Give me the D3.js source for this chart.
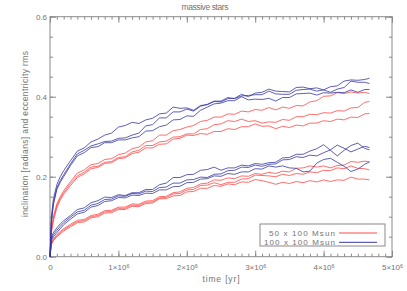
<!DOCTYPE html>
<html>
<head>
<meta charset="utf-8">
<script src="https://cdn.jsdelivr.net/npm/d3@7"></script>
<style>
  body { margin: 0; background: #fff; }
  text { font-family: "Liberation Sans", "DejaVu Sans", sans-serif; fill: #747474; }
</style>
</head>
<body>
<svg id="chart" width="407" height="291"></svg>
<script>
// Time samples (in units of 1e6 yr)
const times = [0, 0.02, 0.05, 0.1, 0.15, 0.2, 0.3, 0.4, 0.5, 0.6, 0.7, 0.8, 0.9, 1.0,
  1.1, 1.2, 1.3, 1.4, 1.5, 1.6, 1.7, 1.8, 1.9, 2.0, 2.1, 2.2, 2.3, 2.4, 2.5, 2.6, 2.7,
  2.8, 2.9, 3.0, 3.1, 3.2, 3.3, 3.4, 3.5, 3.6, 3.7, 3.8, 3.9, 4.0, 4.1, 4.2, 4.3, 4.4,
  4.5, 4.6, 4.67];

// 100 x 100 Msun runs (blue), upper branch
const blueHigh1 = [0, 0.100, 0.145, 0.180, 0.200, 0.215, 0.240, 0.264, 0.272, 0.287, 0.294, 0.304, 0.309, 0.324,
  0.328, 0.336, 0.333, 0.342, 0.346, 0.357, 0.359, 0.374, 0.371, 0.372, 0.366, 0.378, 0.380, 0.388, 0.387, 0.395,
  0.396, 0.406, 0.400, 0.409, 0.411, 0.419, 0.414, 0.413, 0.412, 0.423, 0.424, 0.420, 0.422, 0.417, 0.425, 0.427,
  0.439, 0.442, 0.441, 0.443, 0.446];
const blueHigh2 = [0, 0.090, 0.135, 0.172, 0.190, 0.205, 0.232, 0.257, 0.266, 0.277, 0.282, 0.288, 0.289, 0.296,
  0.297, 0.304, 0.309, 0.327, 0.330, 0.347, 0.347, 0.362, 0.362, 0.369, 0.364, 0.376, 0.381, 0.389, 0.389, 0.398,
  0.395, 0.402, 0.403, 0.405, 0.405, 0.414, 0.407, 0.406, 0.406, 0.416, 0.418, 0.419, 0.414, 0.417, 0.411, 0.419,
  0.423, 0.439, 0.436, 0.436, 0.433];
const blueHigh3 = [0, 0.085, 0.130, 0.168, 0.186, 0.200, 0.228, 0.252, 0.260, 0.273, 0.275, 0.285, 0.285, 0.292,
  0.292, 0.297, 0.300, 0.314, 0.315, 0.325, 0.329, 0.342, 0.343, 0.352, 0.351, 0.366, 0.374, 0.382, 0.384, 0.390,
  0.390, 0.400, 0.392, 0.394, 0.393, 0.396, 0.389, 0.398, 0.398, 0.407, 0.408, 0.409, 0.404, 0.410, 0.409, 0.411,
  0.410, 0.417, 0.411, 0.418, 0.418];

// 50 x 100 Msun runs (red), upper branch
const redHigh1 = [0, 0.070, 0.100, 0.132, 0.150, 0.165, 0.188, 0.209, 0.217, 0.230, 0.233, 0.243, 0.245, 0.255,
  0.259, 0.270, 0.274, 0.287, 0.290, 0.304, 0.304, 0.315, 0.318, 0.324, 0.328, 0.338, 0.341, 0.349, 0.349, 0.357,
  0.356, 0.364, 0.362, 0.368, 0.366, 0.373, 0.367, 0.374, 0.371, 0.378, 0.377, 0.387, 0.390, 0.401, 0.402, 0.410,
  0.408, 0.412, 0.409, 0.411, 0.408];
const redHigh2 = [0, 0.065, 0.095, 0.128, 0.146, 0.160, 0.183, 0.202, 0.211, 0.224, 0.226, 0.236, 0.238, 0.248,
  0.250, 0.262, 0.266, 0.278, 0.278, 0.287, 0.289, 0.299, 0.300, 0.307, 0.307, 0.318, 0.320, 0.330, 0.332, 0.340,
  0.338, 0.344, 0.338, 0.340, 0.334, 0.337, 0.336, 0.343, 0.341, 0.350, 0.350, 0.356, 0.355, 0.360, 0.359, 0.365,
  0.364, 0.372, 0.373, 0.386, 0.388];
const redHigh3 = [0, 0.060, 0.090, 0.122, 0.142, 0.156, 0.178, 0.198, 0.207, 0.220, 0.223, 0.233, 0.235, 0.245,
  0.247, 0.258, 0.261, 0.272, 0.272, 0.281, 0.282, 0.294, 0.296, 0.304, 0.303, 0.308, 0.306, 0.313, 0.313, 0.320,
  0.318, 0.325, 0.325, 0.332, 0.326, 0.327, 0.320, 0.326, 0.323, 0.329, 0.327, 0.334, 0.334, 0.340, 0.338, 0.344,
  0.342, 0.349, 0.348, 0.357, 0.358];

// 100 x 100 Msun runs (blue), lower branch
const blueLow1 = [0, 0.050, 0.060, 0.072, 0.082, 0.090, 0.103, 0.118, 0.122, 0.135, 0.140, 0.149, 0.148, 0.155,
  0.153, 0.160, 0.160, 0.168, 0.168, 0.180, 0.184, 0.198, 0.198, 0.205, 0.206, 0.216, 0.218, 0.224, 0.216, 0.222,
  0.222, 0.229, 0.227, 0.233, 0.231, 0.235, 0.236, 0.247, 0.248, 0.256, 0.256, 0.264, 0.270, 0.280, 0.266, 0.252,
  0.266, 0.278, 0.284, 0.271, 0.267];
const blueLow2 = [0, 0.045, 0.055, 0.066, 0.076, 0.085, 0.099, 0.112, 0.116, 0.129, 0.133, 0.143, 0.144, 0.152,
  0.151, 0.158, 0.157, 0.164, 0.163, 0.173, 0.174, 0.184, 0.184, 0.192, 0.193, 0.199, 0.198, 0.206, 0.207, 0.215,
  0.216, 0.224, 0.223, 0.229, 0.226, 0.231, 0.232, 0.242, 0.243, 0.250, 0.248, 0.254, 0.252, 0.260, 0.267, 0.279,
  0.271, 0.262, 0.269, 0.276, 0.273];
const blueLow3 = [0, 0.040, 0.050, 0.060, 0.070, 0.080, 0.094, 0.107, 0.111, 0.124, 0.128, 0.138, 0.140, 0.148,
  0.147, 0.154, 0.153, 0.159, 0.158, 0.167, 0.167, 0.175, 0.176, 0.185, 0.186, 0.194, 0.195, 0.202, 0.201, 0.208,
  0.206, 0.212, 0.212, 0.220, 0.219, 0.227, 0.224, 0.227, 0.222, 0.221, 0.212, 0.214, 0.234, 0.243, 0.246, 0.236,
  0.226, 0.213, 0.219, 0.231, 0.237];

// 50 x 100 Msun runs (red), lower branch
const redLow1 = [0, 0.035, 0.044, 0.055, 0.063, 0.070, 0.081, 0.091, 0.093, 0.103, 0.106, 0.115, 0.116, 0.124,
  0.124, 0.132, 0.131, 0.139, 0.140, 0.150, 0.151, 0.160, 0.162, 0.171, 0.173, 0.182, 0.184, 0.192, 0.191, 0.197,
  0.195, 0.202, 0.201, 0.208, 0.206, 0.211, 0.208, 0.214, 0.212, 0.221, 0.222, 0.227, 0.224, 0.227, 0.222, 0.228,
  0.229, 0.238, 0.236, 0.239, 0.237];
const redLow2 = [0, 0.033, 0.042, 0.052, 0.060, 0.067, 0.078, 0.088, 0.090, 0.100, 0.103, 0.112, 0.113, 0.121,
  0.121, 0.129, 0.128, 0.136, 0.137, 0.147, 0.148, 0.157, 0.158, 0.167, 0.168, 0.178, 0.179, 0.185, 0.180, 0.186,
  0.186, 0.194, 0.195, 0.204, 0.203, 0.202, 0.200, 0.206, 0.203, 0.208, 0.206, 0.212, 0.210, 0.216, 0.215, 0.222,
  0.220, 0.227, 0.221, 0.220, 0.217];
const redLow3 = [0, 0.030, 0.040, 0.050, 0.057, 0.064, 0.075, 0.085, 0.087, 0.097, 0.100, 0.109, 0.110, 0.118,
  0.118, 0.126, 0.125, 0.133, 0.134, 0.145, 0.145, 0.152, 0.153, 0.162, 0.163, 0.171, 0.171, 0.178, 0.176, 0.182,
  0.180, 0.187, 0.186, 0.193, 0.190, 0.186, 0.181, 0.186, 0.183, 0.188, 0.185, 0.190, 0.187, 0.192, 0.188, 0.192,
  0.191, 0.199, 0.194, 0.194, 0.192];

const redRuns = [redHigh1, redHigh2, redHigh3, redLow1, redLow2, redLow3];
const blueRuns = [blueHigh1, blueHigh2, blueHigh3, blueLow1, blueLow2, blueLow3];

const legendLabels = ["50 x 100 Msun", "100 x 100 Msun"];
const yTicks = [0, 0.2, 0.4, 0.6];
const xTicks = [0, 1e6, 2e6, 3e6, 4e6, 5e6];

const RED = "#ff4848";
const BLUE = "#3636a2";
const AXIS = "#8a8a8a";

const svg = d3.select("#chart");
const plotLeft = 50, plotRight = 392, plotTop = 16.7, plotBottom = 256.7;

const x = d3.scaleLinear().domain([0, 5e6]).range([plotLeft, plotRight]);
const y = d3.scaleLinear().domain([0, 0.6]).range([plotBottom, plotTop]);

// Frame
svg.append("rect")
  .attr("x", plotLeft).attr("y", plotTop)
  .attr("width", plotRight - plotLeft).attr("height", plotBottom - plotTop)
  .attr("fill", "none").attr("stroke", AXIS).attr("stroke-width", 1);

// Helper to draw ticks (inward) with an axis generator
function addAxis(gen, tx, ty, values, size, labels) {
  const g = svg.append("g")
    .attr("transform", "translate(" + tx + "," + ty + ")")
    .call(gen.tickValues(values).tickSize(-size).tickPadding(labels ? 8 : 0)
      .tickFormat(labels ? null : ""));
  g.select(".domain").remove();
  g.selectAll("line").attr("stroke", AXIS);
  return g;
}

const xMinor = d3.range(0, 5e6 + 1, 1e5);
const yMinor = d3.range(0, 0.6001, 0.05);

addAxis(d3.axisBottom(x), 0, plotBottom, xMinor, 3, false);
addAxis(d3.axisTop(x), 0, plotTop, xMinor, 3, false);
addAxis(d3.axisLeft(y), plotLeft, 0, yMinor, 3, false);
addAxis(d3.axisRight(y), plotRight, 0, yMinor, 3, false);
addAxis(d3.axisTop(x), 0, plotTop, xTicks, 6, false);
addAxis(d3.axisRight(y), plotRight, 0, yTicks, 6, false);

// Bottom axis with labels like 1x10^6
const gx = addAxis(d3.axisBottom(x), 0, plotBottom, xTicks, 6, true);
gx.selectAll("text")
  .attr("font-size", 8)
  .attr("fill", "#747474")
  .attr("font-family", null)
  .each(function(d) {
    const t = d3.select(this).text("");
    if (d === 0) { t.text("0"); return; }
    t.append("tspan").text((d / 1e6) + "\u00d710");
    t.append("tspan").attr("font-size", 5.5).attr("dy", "-0.35em").text("6");
  });

// Left axis with labels
const gy = addAxis(d3.axisLeft(y), plotLeft, 0, yTicks, 6, true);
gy.selectAll("text")
  .attr("font-size", 8)
  .attr("fill", "#747474")
  .attr("font-family", null)
  .attr("x", -3)
  .text(d => d3.format(".1f")(d));

// Lines
const line = d3.line()
  .x((d, i) => x(times[i] * 1e6))
  .y(d => y(d));

svg.append("g").selectAll("path.red")
  .data(redRuns)
  .join("path")
  .attr("class", "red")
  .attr("d", line)
  .attr("fill", "none")
  .attr("stroke", RED)
  .attr("stroke-width", 0.8);

svg.append("g").selectAll("path.blue")
  .data(blueRuns)
  .join("path")
  .attr("class", "blue")
  .attr("d", line)
  .attr("fill", "none")
  .attr("stroke", BLUE)
  .attr("stroke-width", 0.8);

// Title and axis labels
svg.append("text")
  .attr("x", 205).attr("y", 10)
  .attr("text-anchor", "middle")
  .attr("font-size", 8.5)
  .attr("textLength", 47)
  .text("massive stars");

svg.append("text")
  .attr("x", 221).attr("y", 282)
  .attr("text-anchor", "middle")
  .attr("font-size", 8.5)
  .attr("textLength", 37)
  .text("time [yr]");

svg.append("text")
  .attr("transform", "translate(28,134) rotate(-90)")
  .attr("text-anchor", "middle")
  .attr("font-size", 8.5)
  .attr("textLength", 166)
  .text("inclination [radians] and eccentricity rms");

// Legend
const legend = svg.append("g");
legend.append("rect")
  .attr("x", 260).attr("y", 224)
  .attr("width", 125).attr("height", 22)
  .attr("fill", "#fff").attr("stroke", AXIS);

const legendColors = [RED, BLUE];
const legendWidths = [66, 71];
legendLabels.forEach((label, i) => {
  const yy = 233 + i * 9.3;
  legend.append("text")
    .attr("x", 335).attr("y", yy + 3)
    .attr("text-anchor", "end")
    .attr("font-size", 8)
    .attr("textLength", legendWidths[i])
    .text(label);
  legend.append("line")
    .attr("x1", 339).attr("x2", 377)
    .attr("y1", yy).attr("y2", yy)
    .attr("stroke", legendColors[i])
    .attr("stroke-width", 1);
});
</script>
</body>
</html>
